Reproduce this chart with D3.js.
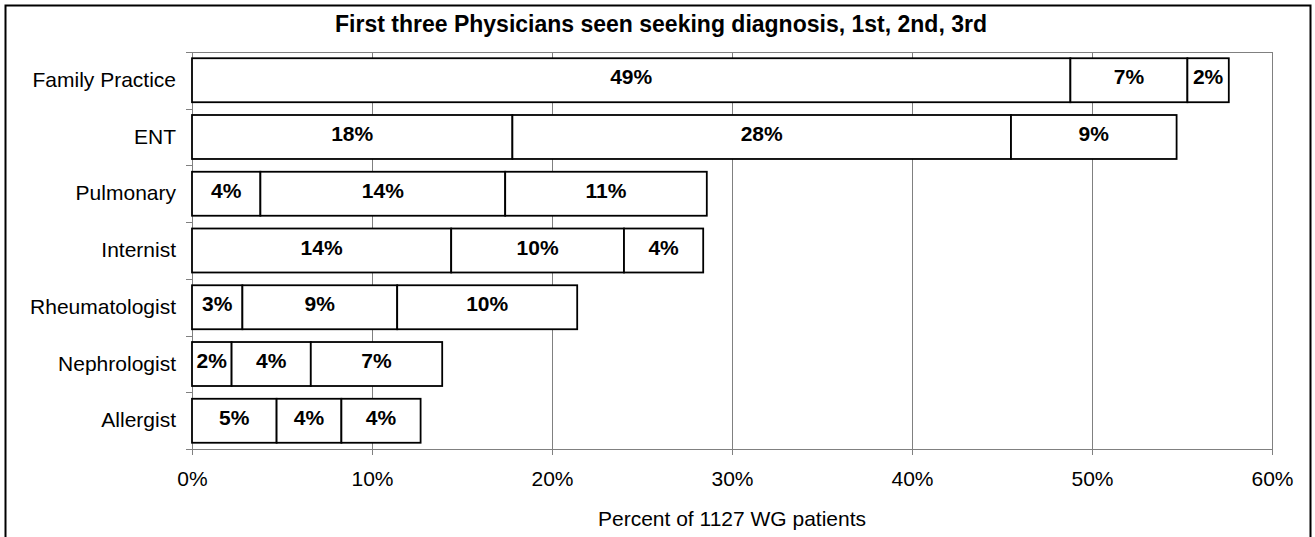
<!DOCTYPE html>
<html>
<head>
<meta charset="utf-8">
<script src="https://cdn.jsdelivr.net/npm/d3@7"></script>
<style>
  body { margin: 0; background: #fff; }
  svg { display: block; font-family: Arial, "Liberation Sans", sans-serif; }
</style>
</head>
<body>
<script>
// categories top to bottom
var categories = ["Family Practice", "ENT", "Pulmonary", "Internist", "Rheumatologist", "Nephrologist", "Allergist"];

// percent of patients, by order the physician was seen
var first  = [48.8, 17.8, 3.8, 14.4, 2.8, 2.2, 4.7];
var second = [6.5, 27.7, 13.6, 9.6, 8.6, 4.4, 3.6];
var third  = [2.3, 9.2, 11.2, 4.4, 10.0, 7.3, 4.4];

var xTicks = [0, 10, 20, 30, 40, 50, 60];

var width = 1315,
    height = 537,
    margin = {top: 52, right: 43, bottom: 88, left: 192};

var svg = d3.select("body").append("svg")
    .attr("width", width)
    .attr("height", height);

// outer frame
svg.append("rect")
    .attr("x", 5.5).attr("y", 5.5)
    .attr("width", 1305).attr("height", 560)
    .attr("fill", "none")
    .attr("stroke", "#000")
    .attr("stroke-width", 2);

svg.append("text")
    .attr("x", 661).attr("y", 32)
    .attr("text-anchor", "middle")
    .style("font-weight", "bold")
    .style("font-size", "23px")
    .text("First three Physicians seen seeking diagnosis, 1st, 2nd, 3rd");

var x = d3.scaleLinear()
    .domain([0, 60])
    .range([margin.left, width - margin.right]);

var y = d3.scaleBand()
    .domain(categories)
    .range([margin.top, height - margin.bottom])
    .paddingInner(0.225)
    .paddingOuter(0.11);

var grid = svg.append("g").attr("shape-rendering", "crispEdges");

// plot top border
grid.append("line")
    .attr("x1", x(0)).attr("x2", x(60))
    .attr("y1", margin.top + 0.5).attr("y2", margin.top + 0.5)
    .attr("stroke", "#808080");

grid.selectAll(".vgrid")
    .data(xTicks.slice(1))
    .enter().append("line")
    .attr("class", "vgrid")
    .attr("x1", function(d) { return Math.round(x(d)) + 0.5; })
    .attr("x2", function(d) { return Math.round(x(d)) + 0.5; })
    .attr("y1", margin.top)
    .attr("y2", height - margin.bottom)
    .attr("stroke", "#808080");

// x axis
var xAxis = svg.append("g")
    .attr("transform", "translate(0," + (height - margin.bottom) + ")")
    .call(d3.axisBottom(x).tickValues(xTicks).tickSize(6).tickPadding(16)
      .tickFormat(function(d) { return d + "%"; }));

xAxis.select(".domain").attr("stroke", "#808080").attr("d", "M" + x(0) + ",0.5H" + x(60));
xAxis.selectAll(".tick line").attr("stroke", "#808080");
xAxis.selectAll(".tick text")
    .style("font-size", "21px")
    .style("font-family", "Arial, 'Liberation Sans', sans-serif")
    .attr("fill", "#000");

// y axis line and boundary ticks
var gap = y.step() * y.paddingInner() / 2;
var bounds = categories.map(function(c) { return y(c) - gap; });
bounds.push(height - margin.bottom);
bounds[0] = margin.top;

grid.append("line")
    .attr("x1", x(0) + 0.5).attr("x2", x(0) + 0.5)
    .attr("y1", margin.top).attr("y2", height - margin.bottom)
    .attr("stroke", "#808080");

grid.selectAll(".ytick")
    .data(bounds)
    .enter().append("line")
    .attr("class", "ytick")
    .attr("x1", x(0) - 6).attr("x2", x(0))
    .attr("y1", function(d) { return Math.round(d) + 0.5; })
    .attr("y2", function(d) { return Math.round(d) + 0.5; })
    .attr("stroke", "#808080");

svg.selectAll(".cat")
    .data(categories)
    .enter().append("text")
    .attr("class", "cat")
    .attr("x", x(0) - 16)
    .attr("y", function(d) { return y(d) + y.bandwidth() / 2; })
    .attr("dy", "0.32em")
    .attr("text-anchor", "end")
    .style("font-size", "21px")
    .text(function(d) { return d; });

// stacked segments
var rows = categories.map(function(c, i) {
  return {cat: c, first: first[i], second: second[i], third: third[i]};
});

var stack = d3.stack().keys(["first", "second", "third"]);
var series = stack(rows);

var layer = svg.selectAll(".layer")
    .data(series)
    .enter().append("g")
    .attr("class", "layer");

layer.selectAll("rect")
    .data(function(d) { return d; })
    .enter().append("rect")
    .attr("x", function(d) { return x(d[0]); })
    .attr("y", function(d) { return y(d.data.cat); })
    .attr("width", function(d) { return x(d[1]) - x(d[0]); })
    .attr("height", y.bandwidth())
    .attr("fill", "#fff")
    .attr("stroke", "#000")
    .attr("stroke-width", 1.8);

layer.selectAll("text")
    .data(function(d) { return d; })
    .enter().append("text")
    .attr("x", function(d) { return (x(d[0]) + x(d[1])) / 2; })
    .attr("y", function(d) { return y(d.data.cat) + y.bandwidth() / 2; })
    .attr("dy", "0.2em")
    .attr("text-anchor", "middle")
    .style("font-weight", "bold")
    .style("font-size", "21px")
    .text(function(d) { return Math.round(d.data[d3.select(this.parentNode).datum().key]) + "%"; });

svg.append("text")
    .attr("x", (x(0) + x(60)) / 2)
    .attr("y", 526)
    .attr("text-anchor", "middle")
    .style("font-size", "21px")
    .text("Percent of 1127 WG patients");
</script>
</body>
</html>
